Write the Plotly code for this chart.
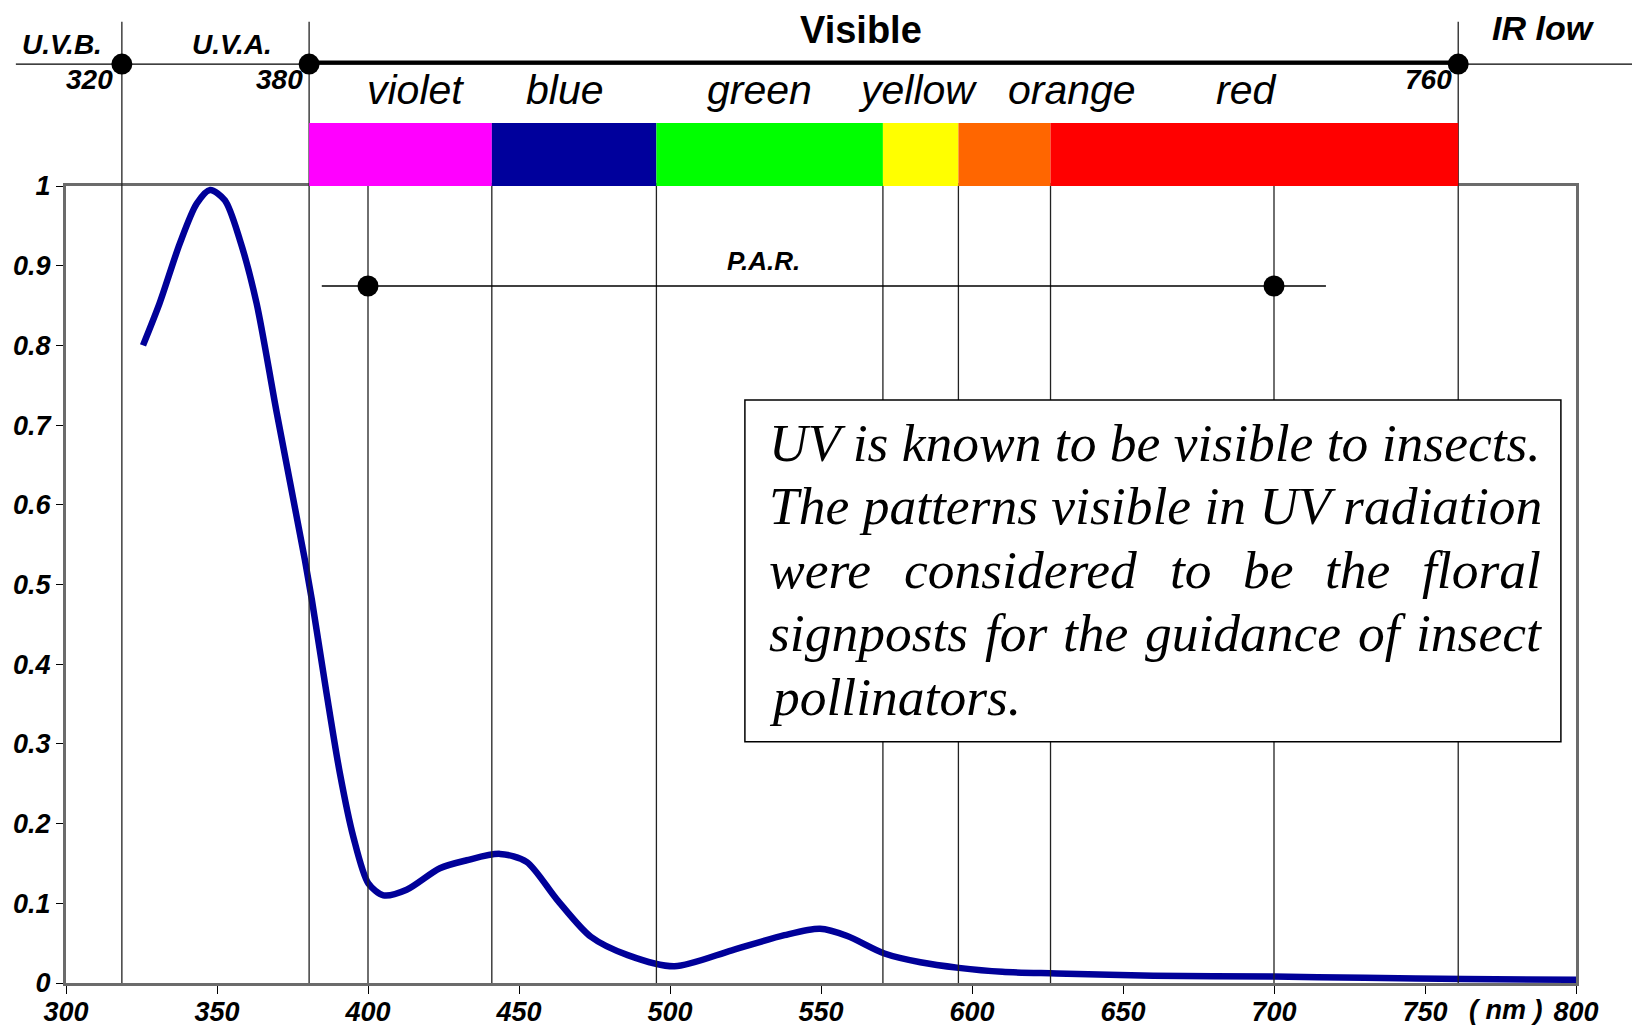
import plotly.graph_objects as go

# spectrum
wavelength = [325.5, 331, 337.7, 343.3, 347.7, 352.6, 357.6, 363.1, 369.8, 379.1,
              381.4, 386.3, 390.7, 395.1, 400.1, 405.1, 412.8, 423.8, 432.7, 443.7,
              452.5, 462.5, 473.8, 486, 501.5, 520.5, 537.9, 549.7, 558.7, 571,
              582.9, 595.6, 610, 628, 660, 700, 730, 763, 800]
response = [0.800, 0.853, 0.928, 0.978, 0.995, 0.982, 0.932, 0.853, 0.715, 0.531,
            0.481, 0.363, 0.263, 0.184, 0.125, 0.110, 0.117, 0.144, 0.154, 0.162,
            0.152, 0.105, 0.058, 0.035, 0.021, 0.041, 0.060, 0.068, 0.059, 0.037,
            0.026, 0.019, 0.014, 0.012, 0.009, 0.008, 0.0065, 0.005, 0.004]

# colour bands of the visible range
band_names = ["violet", "blue", "green", "yellow", "orange", "red"]
band_edges = [380.5, 441, 495.5, 570.5, 595.5, 626, 761]
band_colors = ["#FF00FF", "#00009C", "#00FF00", "#FFFF00", "#FF6600", "#FF0000"]
band_label_nm = [415.6, 465.2, 529.5, 582.1, 633.1, 690.7]

# UV-B / UV-A / IR limits as drawn, with their labels
limit_nm = [318.5, 380.5, 761]
limit_text = ["320", "380", "760"]
region_text = ["U.V.B.", "U.V.A.", "Visible", "IR low"]
region_nm = [298.8, 354.9, 563.2, 789.4]

par_nm = [400, 700]

note_lines = [
    "UV is known to be visible to insects.",
    "The patterns visible in UV radiation",
    "were considered to be the floral",
    "signposts for the guidance of insect",
    "pollinators.",
]

# page geometry: the html body adds an 8px margin, so the figure is
# made 16px smaller and every page position is shifted by that offset
OFF = 8
W, H = 1640 - 2 * OFF, 1034 - 2 * OFF
PX_L, PX_R, PX_T, PX_B = 66 - OFF, 1576 - OFF, 186 - OFF, 983 - OFF
nm_px = (PX_R - PX_L) / 500.0
val_px = (PX_B - PX_T) / 1.0

# an invisible full-page axis pair with the same scale as the frame,
# so the decorations above / left of the frame can use data units
x2_range = [300 - PX_L / nm_px, 800 + (W - PX_R) / nm_px]
y2_range = [0 - (H - PX_B) / val_px, 1 + PX_T / val_px]

SANS = "Liberation Sans"
SERIF = "Liberation Serif"
TOP_Y = 1.153
BAR_TOP = 1.079
PAR_Y = 0.8745

fig = go.Figure()

fig.add_trace(go.Scatter(
    x=wavelength, y=response,
    mode="lines", line=dict(color="#000099", width=6.5, shape="spline", smoothing=0.8),
    hoverinfo="skip", showlegend=False))

dot_x = limit_nm + par_nm
dot_y = [TOP_Y] * len(limit_nm) + [PAR_Y] * len(par_nm)
fig.add_trace(go.Scatter(
    x=dot_x, y=dot_y, xaxis="x2", yaxis="y2", mode="markers",
    marker=dict(color="black", size=21), cliponaxis=False,
    hoverinfo="skip", showlegend=False))

shapes = []
line_kw = dict(xref="x2", yref="y2", layer="below")

# thin rule across the top, thick over the visible range
shapes.append(dict(type="line", x0=283.4, x1=819.0, y0=TOP_Y, y1=TOP_Y,
                   line=dict(color="black", width=1.2), **line_kw))
shapes.append(dict(type="line", x0=band_edges[0], x1=band_edges[-1], y0=TOP_Y + 0.002,
                   y1=TOP_Y + 0.002, line=dict(color="black", width=4), **line_kw))

for nm in limit_nm:
    shapes.append(dict(type="line", x0=nm, x1=nm, y0=0, y1=1.206,
                       line=dict(color="#222", width=1.3), **line_kw))
for nm in sorted(set(band_edges[1:-1] + par_nm)):
    shapes.append(dict(type="line", x0=nm, x1=nm, y0=0, y1=1,
                       line=dict(color="#222", width=1.3), **line_kw))

for i, c in enumerate(band_colors):
    shapes.append(dict(type="rect", x0=band_edges[i], x1=band_edges[i + 1], y0=1.0, y1=BAR_TOP,
                       fillcolor=c, line=dict(width=0), **line_kw))

shapes.append(dict(type="line", x0=384.7, x1=717.2, y0=PAR_Y, y1=PAR_Y,
                   line=dict(color="black", width=1.5), **line_kw))

box_x = [524.8, 795.0]
box_y = [0.3028, 0.7315]
shapes.append(dict(type="rect", x0=box_x[0], x1=box_x[1], y0=box_y[0], y1=box_y[1],
                   fillcolor="white", line=dict(color="black", width=1.5), **line_kw))

ann = []


def label(x, y, text, size, bold=True, italic=True, family=SANS, **kw):
    ann.append(dict(x=x, y=y, xref="x2", yref="y2", text=text, showarrow=False,
                    font=dict(family=family, size=size, color="black",
                              weight="bold" if bold else "normal",
                              style="italic" if italic else "normal"), **kw))


for name, nm in zip(band_names, band_label_nm):
    label(nm, 1.12, name, 41, bold=False)

for text, nm in zip(region_text, region_nm):
    if text == "Visible":
        label(nm, 1.196, text, 38, italic=False)
    elif text == "IR low":
        label(nm, 1.1986, text, 34)
    else:
        label(nm, 1.1774, text, 28)

limit_label_nm = [307.7, 370.6, 751.1]
for text, nm in zip(limit_text, limit_label_nm):
    label(nm, 1.1336, text, 28)

label(531.0, 0.9053, "P.A.R.", 26)
label(776.8, -0.034, "( nm )", 27)

# note text inside the box; rows 3-4 are spread to the full width
# (Times-like italic advance widths)
TIMES_IT = {'a': 500, 'b': 500, 'c': 444, 'd': 500, 'e': 444, 'f': 278, 'g': 500,
            'h': 500, 'i': 278, 'k': 444, 'l': 278, 'n': 500, 'o': 500, 'p': 500,
            'r': 389, 's': 389, 't': 278, 'u': 500, 'v': 444, 'w': 667, 'x': 444,
            'y': 444, 'T': 556, 'U': 722, 'V': 611, '.': 250}
NOTE_SIZE = 53.5
NOTE_PAD = 22
text_w = (box_x[1] - box_x[0]) * nm_px - 2 * NOTE_PAD
first_mid, spacing = 42.7, 63.6

for row, line in enumerate(note_lines):
    yshift = -(first_mid + row * spacing)
    if row in (2, 3):
        words = line.split()
        widths = [sum(TIMES_IT.get(ch, 500) for ch in w) * NOTE_SIZE / 1000.0 for w in words]
        gap = (text_w - sum(widths)) / (len(words) - 1)
        pos = 0
        for w, wd in zip(words, widths):
            label(box_x[0], box_y[1], w, NOTE_SIZE, bold=False, family=SERIF,
                  xanchor="left", yanchor="middle", xshift=NOTE_PAD + pos, yshift=yshift)
            pos += wd + gap
    else:
        label(box_x[0], box_y[1], line, NOTE_SIZE, bold=False, family=SERIF,
              xanchor="left", yanchor="middle", xshift=NOTE_PAD, yshift=yshift)

tick_font = dict(family=SANS, size=27, color="black", weight="bold", style="italic")

fig.update_layout(
    width=W, height=H,
    margin=dict(l=0, r=0, t=0, b=0, pad=0),
    paper_bgcolor="white", plot_bgcolor="rgba(0,0,0,0)",
    showlegend=False,
    shapes=shapes, annotations=ann,
    xaxis=dict(domain=[PX_L / W, PX_R / W], range=[300, 800], dtick=50, automargin=False,
               showgrid=False, zeroline=False, showline=True, mirror=True,
               linecolor="#6b6b6b", linewidth=3, ticks="outside", ticklen=8,
               ticklabelstandoff=-5,
               tickcolor="black", tickwidth=1.2, tickfont=tick_font),
    yaxis=dict(domain=[1 - PX_B / H, 1 - PX_T / H], range=[0, 1], dtick=0.1, automargin=False,
               showgrid=False, zeroline=False, showline=True, mirror=True,
               linecolor="#6b6b6b", linewidth=3, ticks="outside", ticklen=7,
               tickcolor="black", tickwidth=1.2, tickfont=dict(tick_font, size=27)),
    xaxis2=dict(domain=[0, 1], range=x2_range, anchor="y2", visible=False, automargin=False),
    yaxis2=dict(domain=[0, 1], range=y2_range, anchor="x2", visible=False, automargin=False),
)

fig.write_html("out.html")
